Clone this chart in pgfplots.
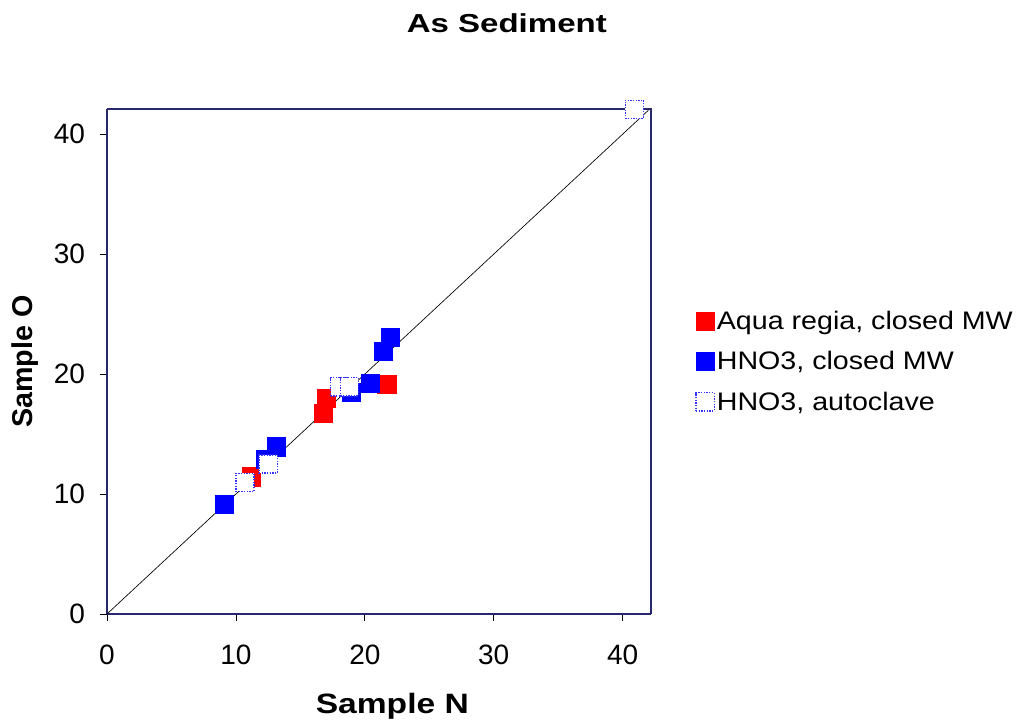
\documentclass[border=0pt]{standalone}
\usepackage{pgfplots}
\pgfplotsset{compat=1.18}
\usepackage{fontspec}
\setmainfont{Liberation Sans}
\definecolor{frame}{RGB}{40,40,110}
\newcommand{\wide}[2]{\scalebox{#1}[1]{#2}}
\begin{document}
\begin{tikzpicture}[x=1pt,y=1pt]
\begin{axis}[
  name=ax,
  scale only axis,
  width=408pt, height=378.75pt,
  xmin=0, xmax=42.2, ymin=0, ymax=42.1,
  xtick={0,10,20,30,40}, ytick={0,10,20,30,40},
  axis x line*=bottom, axis y line*=left,
  tick align=outside,
  major tick length=5pt,
  tick style={black, line width=0.6pt},
  axis line style={frame, line width=0.8pt},
  /pgf/number format/assume math mode=true,
  ticklabel style={font=\fontsize{21}{24}\selectfont},
  yticklabel style={xshift=-8pt},
  xticklabel style={yshift=-15pt},
  xlabel={\wide{1.2}{\textbf{Sample N}}}, ylabel={\textbf{Sample O}},
  xlabel style={font=\fontsize{21}{25}\selectfont, yshift=-14pt, xshift=10pt},
  ylabel style={font=\fontsize{21.5}{25}\selectfont, yshift=5pt},
  title={\wide{1.27}{\textbf{As Sediment}}},
  title style={font=\fontsize{19.5}{23}\selectfont, at={(0.735,1)}, yshift=48pt},
  legend style={draw=none, fill=none, at={(1.075,0.5)}, anchor=west,
    font=\fontsize{19}{23}\selectfont, row sep=11pt,
    legend cell align=left},
  clip=false,
]
\addplot[black, line width=0.5pt, forget plot] coordinates {(0,0) (42,42)};
\addplot[only marks, mark=square*, mark size=6.8pt, mark options={fill=red, draw=red}] coordinates {
 (11.2,11.44) (16.98,17.97) (16.77,16.72) (21.7,19.17)
};
\addlegendentry{\wide{1.13}{Aqua regia, closed MW}}
\addplot[only marks, mark=square*, mark size=6.8pt, mark options={fill=blue, draw=blue}] coordinates {
 (9.07,9.14) (13.15,13.94) (12.25,12.9) (20.4,19.2) (18.97,18.5) (21.4,21.9) (22.0,23.06)
};
\addlegendentry{\wide{1.13}{HNO3, closed MW}}
\addplot[only marks, mark=square*, mark size=6.8pt, mark options={fill=white, draw=blue!80, densely dotted, line width=1pt}] coordinates {
 (10.7,10.97) (12.5,12.5) (18.06,18.94) (18.8,18.94) (40.9,42.08)
};
\addlegendentry{\wide{1.13}{HNO3, autoclave}}
\draw[frame, line width=0.8pt] (rel axis cs:0,1) -- (rel axis cs:1,1) -- (rel axis cs:1,0);
\end{axis}
\pgfresetboundingbox
\path[use as bounding box] ([xshift=-107*0.75pt, yshift=-108*0.75pt]ax.south west) rectangle ([xshift=370*0.75pt, yshift=109*0.75pt]ax.north east);
\end{tikzpicture}
\end{document}
